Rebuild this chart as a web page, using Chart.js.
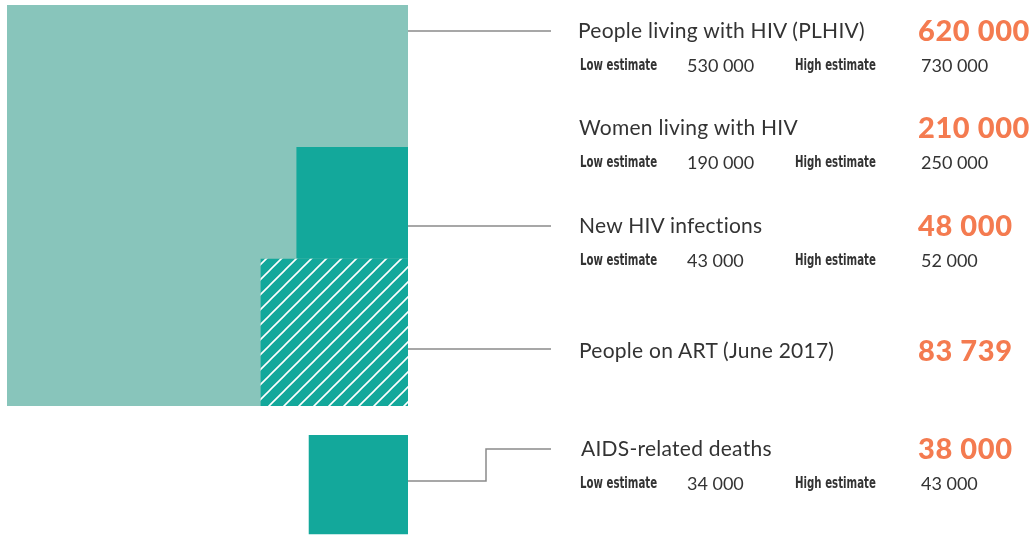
<!DOCTYPE html>
<html>
<head>
<meta charset="utf-8">
<script src="https://cdn.jsdelivr.net/npm/chart.js@4"></script>
<style>
    body { margin: 0; background: #fff; }
    #wrap { position: relative; width: 1033px; height: 535px; overflow: hidden; }
    #chart { position: absolute; left: 0; top: 0; }
    .t { position: absolute; white-space: nowrap; transform: translateY(-50%); line-height: 1; }
    .title { font-family: Lato, "Noto Sans", sans-serif; font-size: 21px; color: #333; letter-spacing: 0.25px; }
    .big { font-family: Lato, "Noto Sans", sans-serif; font-weight: 900; font-size: 29px; color: #f47b50; letter-spacing: 0.6px; }
    .lab { font-family: "DejaVu Sans", sans-serif; font-weight: bold; font-size: 15px; color: #333;
           transform-origin: left center; transform: translateY(-50%) scaleX(0.68); }
    .num { font-family: Lato, "Noto Sans", sans-serif; font-size: 18px; color: #333; }
</style>
</head>
<body>
<div id="wrap">
    <canvas id="chart" width="1033" height="535"></canvas>
</div>
<script>
// data
const labels = ['People living with HIV (PLHIV)', 'Women living with HIV', 'New HIV infections', 'People on ART (June 2017)', 'AIDS-related deaths'];
const values = [620000, 210000, 48000, 83739, 38000];
const lowEst = [530000, 190000, 43000, null, 34000];
const highEst = [730000, 250000, 52000, null, 43000];

// row positions (px) for the text on the right
const titleY = [29, 126, 224, 349, 447];
const estY = [65, 162, 260, null, 483];

const fmt = v => String(v).replace(/\B(?=(\d{3})+(?!\d))/g, ' ');

const wrap = document.getElementById('wrap');
function addText(cls, x, y, txt) {
    const d = document.createElement('div');
    d.className = 't ' + cls;
    d.style.left = x + 'px';
    d.style.top = y + 'px';
    d.textContent = txt;
    wrap.appendChild(d);
}
labels.forEach((l, i) => {
    addText('title', i == 0 ? 578 : i == 4 ? 581 : 579, titleY[i], l);
    addText('big', 918, titleY[i], fmt(values[i]));
    if (lowEst[i] != null) {
        addText('lab', 580, estY[i], 'Low estimate');
        addText('num', 687, estY[i], fmt(lowEst[i]));
        addText('lab', 795, estY[i], 'High estimate');
        addText('num', 921, estY[i], fmt(highEst[i]));
    }
});

// square sides in sqrt units, so area follows the value
const side = values.map(v => Math.sqrt(v));
const s0 = side[0];
const gap = 57; // space between the big square and the deaths square

function square(x0, x1, y0, y1) {
    return [{x: x0, y: y0}, {x: x1, y: y0}, {x: x1, y: y1}, {x: x0, y: y1}, {x: x0, y: y0}];
}

// hatch pattern for people on ART
const pc = document.createElement('canvas');
pc.width = 15; pc.height = 15;
const pctx = pc.getContext('2d');
pctx.fillStyle = '#13a89b';
pctx.fillRect(0, 0, 15, 15);
pctx.strokeStyle = '#ffffff';
pctx.lineWidth = 1.6;
pctx.beginPath();
pctx.moveTo(-2, 17); pctx.lineTo(17, -2);
pctx.moveTo(-2, 2); pctx.lineTo(2, -2);
pctx.moveTo(13, 17); pctx.lineTo(17, 13);
pctx.stroke();
const hatch = pctx.createPattern(pc, 'repeat');

const connectors = {
    id: 'connectors',
    afterDraw(chart) {
        const ctx = chart.ctx;
        const x0 = chart.scales.x.getPixelForValue(0);
        ctx.save();
        ctx.strokeStyle = '#8a8a8a';
        ctx.lineWidth = 1.5;
        ctx.beginPath();
        [31, 226, 349].forEach(y => { ctx.moveTo(x0, y); ctx.lineTo(551, y); });
        ctx.moveTo(x0, 481); ctx.lineTo(486, 481); ctx.lineTo(486, 449); ctx.lineTo(551, 449);
        ctx.stroke();
        ctx.restore();
    }
};

const base = { showLine: true, pointRadius: 0, borderWidth: 0, borderColor: 'rgba(0,0,0,0)', fill: 'shape' };

new Chart(document.getElementById('chart'), {
    type: 'scatter',
    data: {
        datasets: [
            Object.assign({ label: labels[0], data: square(-s0, 0, 0, s0), backgroundColor: '#88c5bb', order: 4 }, base),
            Object.assign({ label: labels[2], data: square(-side[2], 0, side[3], side[3] + side[2]), backgroundColor: '#13a89b', order: 3 }, base),
            Object.assign({ label: labels[3], data: square(-side[3], 0, 0, side[3]), backgroundColor: hatch, order: 2 }, base),
            Object.assign({ label: labels[4], data: square(-side[4], 0, -gap - side[4], -gap), backgroundColor: '#13a89b', order: 1 }, base)
        ]
    },
    options: {
        responsive: false,
        animation: false,
        layout: { padding: { left: 7, top: 5, right: 625, bottom: 0 } },
        scales: {
            x: { type: 'linear', min: -s0, max: 0, display: false },
            y: { type: 'linear', min: s0 - s0 * 530 / 401, max: s0, display: false }
        },
        plugins: { legend: { display: false }, tooltip: { enabled: false } }
    },
    plugins: [connectors]
});
</script>
</body>
</html>
